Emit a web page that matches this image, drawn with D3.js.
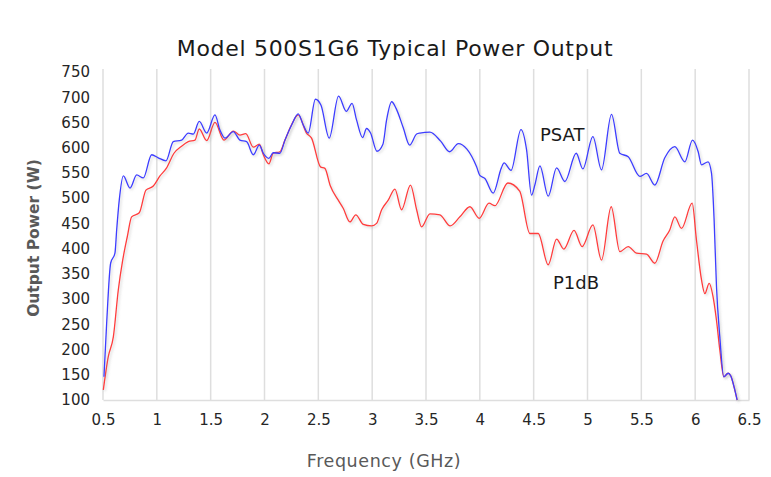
<!DOCTYPE html>
<html>
<head>
<meta charset="utf-8">
<script src="https://cdn.jsdelivr.net/npm/d3@7"></script>
<style>
  html, body { margin: 0; padding: 0; background: #fff; }
  svg { display: block; }
</style>
</head>
<body>
<svg id="chart" width="771" height="477"></svg>
<script>
// ---- data ----
const psatFreq = [0.509,0.534,0.571,0.611,0.627,0.651,0.689,0.751,0.813,0.874,0.952,1.013,1.085,1.153,1.23,1.292,1.339,1.394,1.463,1.54,1.586,1.633,1.71,1.772,1.834,1.896,1.952,1.989,2.041,2.081,2.143,2.19,2.252,2.313,2.36,2.406,2.473,2.525,2.601,2.688,2.76,2.813,2.855,2.911,2.948,2.985,3.044,3.1,3.134,3.181,3.222,3.288,3.348,3.413,3.443,3.536,3.636,3.72,3.8,3.88,3.97,4.0,4.047,4.124,4.2,4.225,4.29,4.382,4.434,4.48,4.511,4.558,4.635,4.713,4.79,4.895,4.957,5.05,5.13,5.223,5.3,5.378,5.486,5.548,5.625,5.718,5.811,5.904,5.975,6.028,6.059,6.12,6.152,6.176,6.198,6.229,6.266,6.306,6.33,6.368,6.39];
const psatPower = [146,252,371,391,437,496,544,520,546,540,586,580,574,612,615,629,627,652,629,665,635,619,632,615,612,586,605,589,579,590,589,615,645,667,645,629,696,684,619,702,672,688,655,620,638,629,593,607,655,691,678,640,605,627,629,631,613,592,608,597,562,545,539,510,560,570,555,636,596,506,526,564,504,560,533,589,558,622,556,666,589,582,543,549,526,580,602,572,615,592,566,572,549,457,325,225,146,153,148,120,100];

const p1dbFreq = [0.503,0.549,0.596,0.642,0.683,0.726,0.766,0.837,0.899,0.967,1.029,1.091,1.159,1.23,1.292,1.354,1.394,1.463,1.54,1.623,1.71,1.772,1.826,1.896,1.952,1.989,2.041,2.081,2.143,2.19,2.252,2.313,2.39,2.437,2.52,2.561,2.61,2.685,2.731,2.793,2.848,2.917,2.995,3.041,3.088,3.149,3.211,3.273,3.356,3.413,3.459,3.536,3.629,3.725,3.815,3.908,3.994,4.085,4.14,4.26,4.37,4.465,4.542,4.635,4.713,4.78,4.875,4.95,5.05,5.13,5.22,5.3,5.378,5.455,5.548,5.625,5.702,5.764,5.811,5.873,5.972,6.012,6.059,6.09,6.13,6.166,6.198,6.229,6.266,6.306,6.33,6.368,6.39];
const p1dbPower = [120,186,225,318,377,424,463,471,516,524,544,560,589,603,612,615,637,614,650,615,633,625,628,601,607,586,568,589,592,615,646,665,629,619,562,559,525,496,480,453,467,448,445,450,477,496,518,477,526,477,443,469,467,445,463,483,460,490,485,530,514,430,430,368,419,399,436,404,447,377,483,394,404,391,389,371,415,437,463,440,490,417,338,311,331,305,258,199,146,153,148,120,100];

const xTicks = [0.5,1,1.5,2,2.5,3,3.5,4,4.5,5,5.5,6,6.5];
const yTicks = [100,150,200,250,300,350,400,450,500,550,600,650,700,750];

const chartTitle = "Model 500S1G6 Typical Power Output";
const xTitle = "Frequency (GHz)";
const yTitle = "Output Power (W)";
const seriesLabels = ["PSAT", "P1dB"];

// ---- drawing ----
const svg = d3.select("#chart");
const FONT = "'DejaVu Sans', sans-serif";

const x = d3.scaleLinear().domain([0.5, 6.5]).range([103, 749]);
const y = d3.scaleLinear().domain([100, 750]).range([400, 72]);

const defs = svg.append("defs");
const f = defs.append("filter").attr("id", "shadow")
  .attr("x", "-5%").attr("y", "-5%").attr("width", "110%").attr("height", "110%");
f.append("feDropShadow").attr("dx", 1.5).attr("dy", 1.5)
  .attr("stdDeviation", 1.2).attr("flood-color", "#888").attr("flood-opacity", 0.35);

// vertical gridlines
svg.append("g")
  .selectAll("line").data(xTicks).join("line")
  .attr("x1", d => x(d)).attr("x2", d => x(d))
  .attr("y1", y(750) - 3).attr("y2", y(100))
  .attr("stroke", "#dedede").attr("stroke-width", 1.5);

// x axis
const gx = svg.append("g").attr("transform", `translate(0,${y(100)})`)
  .call(d3.axisBottom(x).tickValues(xTicks).tickFormat(d => String(d)).tickSize(0).tickPadding(14));
gx.select(".domain").attr("stroke", "#dedede").attr("stroke-width", 1.5);
gx.selectAll("text").attr("font-family", FONT).attr("font-size", 15).attr("fill", "#262626");

// y axis
const gy = svg.append("g").attr("transform", `translate(${x(0.5)},0)`)
  .call(d3.axisLeft(y).tickValues(yTicks).tickFormat(d => String(d)).tickSize(0).tickPadding(13));
gy.select(".domain").remove();
gy.selectAll("text").attr("font-family", FONT).attr("font-size", 15).attr("fill", "#262626");

// lines
const line = d3.line().x(d => x(d[0])).y(d => y(d[1])).curve(d3.curveMonotoneX);
const p1db = p1dbFreq.map((v, i) => [v, p1dbPower[i]]);
const psat = psatFreq.map((v, i) => [v, psatPower[i]]);

svg.append("path").datum(p1db).attr("d", line)
  .attr("fill", "none").attr("stroke", "#ff3c3c").attr("stroke-width", 1.3)
  .attr("filter", "url(#shadow)");
svg.append("path").datum(psat).attr("d", line)
  .attr("fill", "none").attr("stroke", "#3c3cff").attr("stroke-width", 1.3)
  .attr("filter", "url(#shadow)");

// title
svg.append("text").attr("x", 395).attr("y", 56).attr("text-anchor", "middle")
  .attr("font-family", FONT).attr("font-size", 22).attr("letter-spacing", 0.7).attr("fill", "#1a1a1a")
  .text(chartTitle);

// axis titles
svg.append("text").attr("x", 384).attr("y", 467).attr("text-anchor", "middle")
  .attr("font-family", FONT).attr("font-size", 17.5).attr("letter-spacing", 0.6).attr("fill", "#595959")
  .text(xTitle);
svg.append("text").attr("transform", "translate(39,238) rotate(-90)").attr("text-anchor", "middle")
  .attr("font-family", FONT).attr("font-size", 15.5).attr("font-weight", "bold").attr("fill", "#595959")
  .text(yTitle);

// series labels
svg.append("text").attr("x", 540).attr("y", 141)
  .attr("font-family", FONT).attr("font-size", 18).attr("fill", "#1a1a1a")
  .text(seriesLabels[0]);
svg.append("text").attr("x", 553).attr("y", 289)
  .attr("font-family", FONT).attr("font-size", 18).attr("fill", "#1a1a1a")
  .text(seriesLabels[1]);
</script>
</body>
</html>
